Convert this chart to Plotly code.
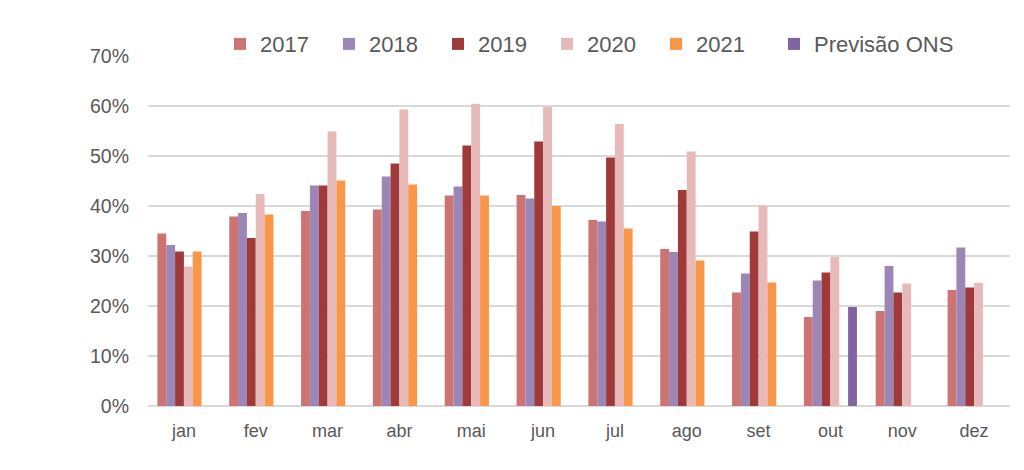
import plotly.graph_objects as go

months = ["jan", "fev", "mar", "abr", "mai", "jun", "jul", "ago", "set", "out", "nov", "dez"]
y2017 = [34.5, 37.9, 39.0, 39.3, 42.1, 42.2, 37.2, 31.4, 22.7, 17.8, 19.0, 23.2]
y2018 = [32.2, 38.6, 44.1, 45.9, 43.9, 41.5, 36.9, 30.8, 26.5, 25.1, 28.0, 31.7]
y2019 = [30.9, 33.6, 44.1, 48.5, 52.1, 52.9, 49.7, 43.2, 34.9, 26.7, 22.7, 23.7]
y2020 = [27.9, 42.4, 54.9, 59.3, 60.4, 59.8, 56.4, 50.9, 40.1, 29.8, 24.5, 24.6]
y2021 = [30.9, 38.3, 45.1, 44.3, 42.1, 40.0, 35.5, 29.1, 24.7, None, None, None]
prev_ons = [None, None, None, None, None, None, None, None, None, 19.8, None, None]

series = [
    ("2017", y2017, "#CD7472", "legend"),
    ("2018", y2018, "#9B86B6", "legend"),
    ("2019", y2019, "#9F3A3A", "legend"),
    ("2020", y2020, "#E8B9B9", "legend"),
    ("2021", y2021, "#F79747", "legend"),
    ("Previsão ONS", prev_ons, "#8064A2", "legend2"),
]

fig = go.Figure()
for name, vals, color, leg in series:
    fig.add_trace(go.Bar(
        x=months, y=vals, name=name, legend=leg,
        marker=dict(color=color, line=dict(width=0)),
    ))

font_color = "#595959"
leg_font = dict(size=22, color=font_color)
fig.update_layout(
    width=1024, height=470,
    barmode="group", bargap=0.262, bargroupgap=0,
    paper_bgcolor="white", plot_bgcolor="white",
    margin=dict(l=140, r=22, t=48, b=72, autoexpand=False),
    font=dict(family="Liberation Sans, Arial, sans-serif", color=font_color, size=18),
    legend=dict(
        orientation="h", x=0.0835, xanchor="left", y=1.034, yanchor="middle",
        font=leg_font, entrywidth=64, entrywidthmode="pixels",
        itemwidth=30, traceorder="normal", bgcolor="rgba(0,0,0,0)",
    ),
    legend2=dict(
        orientation="h", x=0.7262, xanchor="left", y=1.034, yanchor="middle",
        font=leg_font, itemwidth=30, bgcolor="rgba(0,0,0,0)",
    ),
    xaxis=dict(
        showgrid=False, showline=False, ticks="", tickfont=dict(size=18, color=font_color),
        ticklabelstandoff=12,
    ),
    yaxis=dict(
        range=[0, 70], dtick=10, ticksuffix="%", showgrid=True, gridcolor="#D9D9D9",
        gridwidth=1.5, zeroline=True, zerolinecolor="#D9D9D9", zerolinewidth=1.5,
        tickfont=dict(size=19.5, color=font_color), ticklabelstandoff=18,
    ),
)

fig.write_html("out.html")
